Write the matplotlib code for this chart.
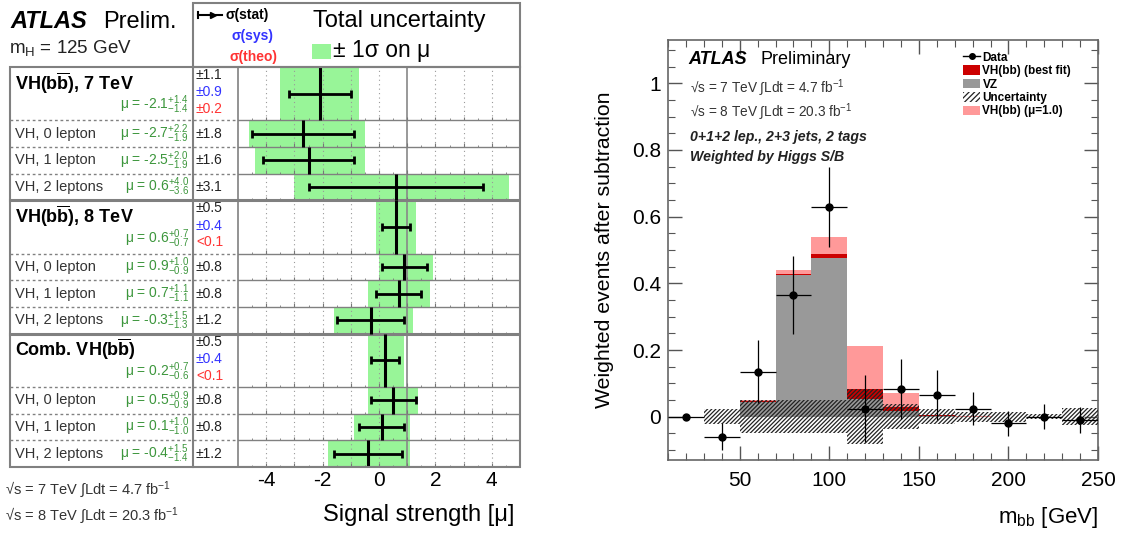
import matplotlib
matplotlib.use("Agg")
import matplotlib.pyplot as plt
from matplotlib.patches import Patch, Rectangle
from matplotlib.lines import Line2D
from matplotlib.ticker import MultipleLocator, FuncFormatter
import numpy as np

plt.rcParams['font.family'] = ['Liberation Sans', 'DejaVu Sans']
plt.rcParams['mathtext.fontset'] = 'custom'
plt.rcParams['mathtext.rm'] = 'Liberation Sans'
plt.rcParams['mathtext.it'] = 'Liberation Sans:italic'
plt.rcParams['mathtext.bf'] = 'Liberation Sans:bold'
plt.rcParams['hatch.linewidth'] = 0.9

# ---------------- Left panel data ----------------
group_titles = [r"VH(b$\overline{\mathbf{b}}$), 7 TeV", r"VH(b$\overline{\mathbf{b}}$), 8 TeV",
                r"Comb. VH(b$\overline{\mathbf{b}}$)"]
group_mu = [-2.1, 0.6, 0.2]
group_up = [1.4, 0.7, 0.7]
group_dn = [1.4, 0.7, 0.6]
group_stat = [1.1, 0.5, 0.5]
group_sys = ["±0.9", "±0.4", "±0.4"]
group_theo = ["±0.2", "<0.1", "<0.1"]
channel_labels = ["VH, 0 lepton", "VH, 1 lepton", "VH, 2 leptons"]
chan_mu = [[-2.7, -2.5, 0.6], [0.9, 0.7, -0.3], [0.5, 0.1, -0.4]]
chan_up = [[2.2, 2.0, 4.0], [1.0, 1.1, 1.5], [0.9, 1.0, 1.5]]
chan_dn = [[1.9, 1.9, 3.6], [0.9, 1.1, 1.3], [0.9, 1.0, 1.4]]
chan_stat = [[1.8, 1.6, 3.1], [0.8, 0.8, 1.2], [0.8, 0.8, 1.2]]
mu_ticks = [-4, -2, 0, 2, 4]

# ---------------- Right panel data ----------------
mbb_edges = [10, 30, 50, 70, 90, 110, 130, 150, 170, 190, 210, 230, 250]
vz = [0.0, 0.0, 0.045, 0.424, 0.477, 0.052, 0.017, 0.002, 0.0, 0.0, 0.0, 0.0]
vh_fit = [0.0, 0.0, 0.001, 0.003, 0.012, 0.032, 0.011, 0.002, 0.0, 0.0, 0.0, 0.0]
vh_sm = [0.0, 0.0, 0.005, 0.015, 0.062, 0.160, 0.055, 0.004, 0.001, 0.0, 0.0, 0.0]
unc = [0.0, 0.022, 0.05, 0.05, 0.05, 0.082, 0.037, 0.022, 0.015, 0.015, 0.008, 0.025]
data_y = [0.0, -0.06, 0.135, 0.365, 0.63, 0.024, 0.084, 0.064, 0.024, -0.02, 0.0, -0.01]
data_err = [0.0, 0.04, 0.095, 0.117, 0.12, 0.10, 0.09, 0.075, 0.05, 0.037, 0.038, 0.038]

W, H = 1127, 533
fig = plt.figure(figsize=(W / 100, H / 100), dpi=100)

GREEN = '#98f598'
MUGREEN = '#3c963c'
FRAME = '#808080'

# ---------------- Left plot ----------------
L0, R0, T0, B0 = 238, 520, 67, 467
ax1 = fig.add_axes([L0 / W, 1 - B0 / H, (R0 - L0) / W, (B0 - T0) / H])
NU = 15.0
ax1.set_xlim(-5, 5)
ax1.set_ylim(NU, 0)

rows = []  # (top, bottom, mu, up, dn, stat)
for g in range(3):
    top = 5 * g
    rows.append((top, top + 2, group_mu[g], group_up[g], group_dn[g], group_stat[g]))
    for i in range(3):
        t = top + 2 + i
        rows.append((t, t + 1, chan_mu[g][i], chan_up[g][i], chan_dn[g][i], chan_stat[g][i]))

for (t, b, mu, up, dn, st) in rows:
    c = 0.5 * (t + b)
    ax1.barh(c, up + dn, left=mu - dn, height=(b - t), color=GREEN, lw=0, zorder=1)
    ax1.errorbar(mu, c, xerr=st, fmt='none', ecolor='k', elinewidth=2, capsize=3,
                 capthick=2, zorder=4)
    ax1.vlines(mu, t, b, colors='k', lw=2.2, zorder=4)
    ax1.vlines(np.arange(-4, 5), b - 0.14, b, colors='#777', lw=0.8, zorder=3)
    ax1.vlines(np.arange(-4.5, 5, 1), b - 0.07, b, colors='#777', lw=0.6, zorder=3)
    lw = 2.2 if (b % 5 == 0) else 1.0
    ax1.axhline(b, color=FRAME, lw=lw, zorder=3)

for v in [-4, -3, -2, -1, 0, 2, 3, 4]:
    ax1.axvline(v, ls=(0, (1, 3)), color='#999', lw=0.8, zorder=2)
ax1.axvline(1, color='#888', lw=1.2, zorder=2)

ax1.set_xticks(mu_ticks)
ax1.set_xticklabels([str(v) for v in mu_ticks])
ax1.set_yticks([])
ax1.tick_params(axis='x', length=0, labelsize=15, pad=3)
for s in ax1.spines.values():
    s.set_color(FRAME)
    s.set_linewidth(1.2)

# ---------------- Right plot ----------------
ax2 = fig.add_axes([668 / W, 1 - 460 / H, 430 / W, 420 / H])
edges = np.array(mbb_edges, dtype=float)
centers = 0.5 * (edges[:-1] + edges[1:])
widths = np.diff(edges)
vz_a = np.array(vz); fit_a = np.array(vh_fit); sm_a = np.array(vh_sm); unc_a = np.array(unc)

ax2.bar(centers, vz_a + sm_a, width=widths, color='#ff9999', lw=0, zorder=1)
ax2.bar(centers, vz_a + fit_a, width=widths, color='#cc0000', lw=0, zorder=2)
ax2.bar(centers, vz_a, width=widths, color='#999999', lw=0, zorder=3)
ax2.bar(centers, 2 * unc_a, bottom=-unc_a, width=widths, facecolor='none',
        edgecolor='#222222', hatch='////////', lw=0, zorder=4)
ax2.errorbar(centers, data_y, yerr=data_err, xerr=widths / 2, fmt='o', color='k',
             ms=5, elinewidth=0.9, capsize=0, zorder=6)

ax2.set_xlim(10, 250)
ax2.set_ylim(-0.13, 1.13)
ax2.set_xticks([50, 100, 150, 200, 250])
ax2.xaxis.set_minor_locator(MultipleLocator(10))
ax2.set_yticks([0, 0.2, 0.4, 0.6, 0.8, 1.0])
ax2.yaxis.set_minor_locator(MultipleLocator(0.05))
ax2.yaxis.set_major_formatter(FuncFormatter(lambda v, p: "%g" % round(v, 2)))
ax2.tick_params(which='both', direction='in', top=True, right=True, colors='#555',
                labelcolor='k', labelsize=15)
ax2.tick_params(which='major', length=10, width=1)
ax2.tick_params(which='minor', length=5, width=0.8)
ax2.tick_params(axis='x', pad=8)
ax2.tick_params(axis='y', pad=5)
for s in ax2.spines.values():
    s.set_color('#666')
    s.set_linewidth(1.2)

handles = [Line2D([], [], color='k', marker='o', ms=4, lw=1),
           Patch(facecolor='#cc0000', lw=0),
           Patch(facecolor='#999999', lw=0),
           Patch(facecolor='white', edgecolor='#222222', hatch='//////', lw=0),
           Patch(facecolor='#ff9999', lw=0)]
labels = ["Data", "VH(bb) (best fit)", "VZ", "Uncertainty", "VH(bb) (μ=1.0)"]
ax2.legend(handles, labels, loc='upper left', bbox_to_anchor=(0.686, 0.972),
           frameon=False, prop={'size': 8.5, 'weight': 'bold'}, handlelength=1.45,
           handleheight=0.85, handletextpad=0.2, labelspacing=0.12, borderaxespad=0,
           borderpad=0)

# ---------------- Overlay (pixel coordinates) ----------------
ov = fig.add_axes([0, 0, 1, 1], zorder=10)
ov.set_xlim(0, W)
ov.set_ylim(H, 0)
ov.axis('off')

def ypx(u):
    return T0 + u * (B0 - T0) / NU

ov.add_patch(Rectangle((10, T0), R0 - 10, B0 - T0, fill=False, ec=FRAME, lw=1.5))
ov.add_patch(Rectangle((193, 3), R0 - 193, T0 - 3, fill=False, ec=FRAME, lw=1.5))
ov.plot([193, 193], [T0, B0], color=FRAME, lw=1.5)
for g in range(3):
    for i in range(3):
        b = 5 * g + 2 + i
        if b % 5 != 0 and b < NU:
            ov.plot([10, L0], [ypx(b), ypx(b)], color=FRAME, lw=1.0, ls=(0, (2, 2)))
    if g > 0:
        ov.plot([10, L0], [ypx(5 * g), ypx(5 * g)], color=FRAME, lw=2.2)
    top = 5 * g
    ov.text(15, ypx(top + 0.6), group_titles[g], fontsize=13, fontweight='bold',
            ha='left', va='center', color='k')
    ov.text(189, ypx(top + 1.42), "μ = %.1f$^{+%.1f}_{-%.1f}$" % (group_mu[g], group_up[g], group_dn[g]),
            fontsize=10, ha='right', va='center', color=MUGREEN)
    ov.text(196, ypx(top + 0.3), "±%.1f" % group_stat[g], fontsize=10, ha='left', va='center', color='#222')
    ov.text(196, ypx(top + 0.95), group_sys[g], fontsize=10, ha='left', va='center', color='#3333ff')
    ov.text(196, ypx(top + 1.58), group_theo[g], fontsize=10, ha='left', va='center', color='#ff3333')
    for i in range(3):
        c = top + 2.5 + i
        ov.text(15, ypx(c), channel_labels[i], fontsize=10.5, ha='left', va='center', color='#333')
        ov.text(189, ypx(c), "μ = %.1f$^{+%.1f}_{-%.1f}$" % (chan_mu[g][i], chan_up[g][i], chan_dn[g][i]),
                fontsize=10, ha='right', va='center', color=MUGREEN)
        ov.text(196, ypx(c), "±%.1f" % chan_stat[g][i], fontsize=10, ha='left', va='center', color='#222')

# left titles
ov.text(10, 22, "ATLAS", fontsize=17, fontweight='bold', fontstyle='italic', ha='left', va='center')
ov.text(103, 22, "Prelim.", fontsize=17, ha='left', va='center')
ov.text(9, 48, r"m$_{\rm H}$ = 125 GeV", fontsize=13.5, ha='left', va='center', color='#222')

# left legend box
ov.plot([198, 222], [15, 15], color='k', lw=1.5)
ov.plot([213], [15], marker='>', color='k', ms=4)
ov.plot([198, 198], [12, 18], color='k', lw=1.5)
ov.text(225, 15, "σ(stat)", fontsize=10, fontweight='bold', ha='left', va='center', color='k')
ov.text(232, 36, "σ(sys)", fontsize=10, fontweight='bold', ha='left', va='center', color='#3333ff')
ov.text(230, 57, "σ(theo)", fontsize=10, fontweight='bold', ha='left', va='center', color='#ff3333')
ov.text(313, 21, "Total uncertainty", fontsize=17, ha='left', va='center')
ov.add_patch(Rectangle((312, 44), 19, 15, color=GREEN, lw=0))
ov.text(333, 50, "± 1σ on μ", fontsize=16.5, ha='left', va='center')

# left bottom
ov.text(5, 490, "√s = 7 TeV ∫Ldt = 4.7 fb$^{-1}$", fontsize=10.5, ha='left', va='center', color='#333')
ov.text(5, 516, "√s = 8 TeV ∫Ldt = 20.3 fb$^{-1}$", fontsize=10.5, ha='left', va='center', color='#333')
ov.text(514, 515, "Signal strength [μ]", fontsize=17, ha='right', va='center')

# right texts
ov.text(688, 60, "ATLAS", fontsize=13, fontweight='bold', fontstyle='italic', ha='left', va='center')
ov.text(760, 60, "Preliminary", fontsize=13, ha='left', va='center')
ov.text(690, 88, "√s = 7 TeV ∫Ldt = 4.7 fb$^{-1}$", fontsize=9.8, ha='left', va='center', color='#333')
ov.text(690, 112, "√s = 8 TeV ∫Ldt = 20.3 fb$^{-1}$", fontsize=9.8, ha='left', va='center', color='#333')
ov.text(690, 137, "0+1+2 lep., 2+3 jets, 2 tags", fontsize=10.2, fontweight='bold', fontstyle='italic',
        ha='left', va='center', color='#222')
ov.text(690, 157, "Weighted by Higgs S/B", fontsize=10.2, fontweight='bold', fontstyle='italic',
        ha='left', va='center', color='#222')
ov.text(605, 250, "Weighted events after subtraction", fontsize=15.3, rotation=90,
        ha='center', va='center')
ov.text(1098, 518, r"m$_{\rm bb}$ [GeV]", fontsize=16, ha='right', va='center')

fig.savefig("out.png", dpi=100)
